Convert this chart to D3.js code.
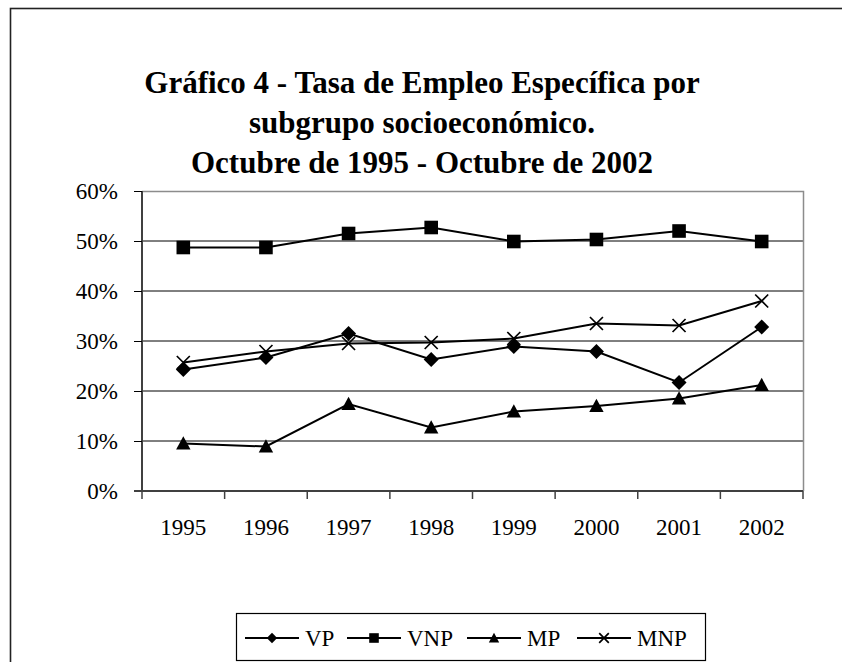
<!DOCTYPE html>
<html>
<head>
<meta charset="utf-8">
<script src="https://cdn.jsdelivr.net/npm/d3@7"></script>
<style>
  body { margin: 0; background: #fff; }
  svg text { font-family: "Liberation Serif", "Times New Roman", serif; fill: #000; }
</style>
</head>
<body>
<div id="chart"></div>
<script>
var years = ["1995", "1996", "1997", "1998", "1999", "2000", "2001", "2002"];
var vp  = [24.3, 26.7, 31.5, 26.3, 28.9, 27.9, 21.7, 32.8];
var vnp = [48.7, 48.7, 51.5, 52.7, 49.9, 50.3, 52.0, 49.9];
var mp  = [9.5, 8.9, 17.4, 12.7, 15.9, 17.0, 18.5, 21.2];
var mnp = [25.7, 27.9, 29.5, 29.7, 30.5, 33.5, 33.1, 38.0];
var yTicks = [0, 0.1, 0.2, 0.3, 0.4, 0.5, 0.6];
var titleLines = ["Gráfico 4 - Tasa de Empleo Específica por",
                  "subgrupo socioeconómico.",
                  "Octubre de 1995 - Octubre de 2002"];

var series = [
  {name: "VP", values: vp, shape: "diamond"},
  {name: "VNP", values: vnp, shape: "square"},
  {name: "MP", values: mp, shape: "triangle"},
  {name: "MNP", values: mnp, shape: "cross"}
];

var W = 842, H = 662;
var plot = {left: 142, right: 803, top: 191, bottom: 491};
var serif = "'Liberation Serif', 'Times New Roman', serif";

var svg = d3.select("#chart")
  .append("svg")
    .attr("width", W)
    .attr("height", H);

// outer chart border (runs past the picture at right/bottom)
svg.append("rect")
  .attr("x", 10.5).attr("y", 8.5)
  .attr("width", W).attr("height", H)
  .attr("fill", "#fff")
  .attr("stroke", "#222")
  .attr("stroke-width", 1.6);

// title
svg.append("g").selectAll("text")
  .data(titleLines)
  .enter().append("text")
    .attr("x", 422)
    .attr("y", function (d, i) { return 93 + i * 40; })
    .attr("text-anchor", "middle")
    .style("font-size", "31px")
    .style("font-weight", "bold")
    .text(function (d) { return d; });

var x = d3.scaleBand()
  .domain(years)
  .range([plot.left, plot.right]);

var y = d3.scaleLinear()
  .domain([0, 0.6])
  .range([plot.bottom, plot.top]);

function cx(i) { return x(years[i]) + x.bandwidth() / 2; }

// gridlines
svg.append("g").selectAll("line")
  .data(yTicks.slice(1, -1))
  .enter().append("line")
    .attr("x1", plot.left).attr("x2", plot.right)
    .attr("y1", function (d) { return y(d); })
    .attr("y2", function (d) { return y(d); })
    .attr("stroke", "#000")
    .attr("stroke-width", 1);

// plot frame top/right
svg.append("path")
  .attr("d", "M" + plot.left + "," + (plot.top + 0.5) + "H" + (plot.right + 0.5) + "V" + plot.bottom)
  .attr("fill", "none")
  .attr("stroke", "#8c8c8c")
  .attr("stroke-width", 1.5);

// Y axis
var yAxis = svg.append("g")
  .attr("transform", "translate(" + plot.left + ",0)")
  .attr("font-family", serif)
  .attr("font-size", 23)
  .call(d3.axisLeft(y).tickValues(yTicks).tickFormat(d3.format(".0%")).tickSize(8).tickPadding(16));
yAxis.select(".domain").attr("stroke", "#404040").attr("stroke-width", 2).attr("d", "M0," + plot.top + "V" + plot.bottom);
yAxis.selectAll(".tick line").attr("stroke", "#000");
yAxis.selectAll(".tick text").style("font-family", serif).style("font-size", "23px");

// X axis
var xAxis = svg.append("g")
  .attr("transform", "translate(0," + plot.bottom + ")")
  .attr("font-family", serif)
  .attr("font-size", 23)
  .call(d3.axisBottom(x).tickSize(0).tickPadding(28));
xAxis.select(".domain").attr("stroke", "#404040").attr("stroke-width", 2).attr("d", "M" + (plot.left - 8) + ",0H" + plot.right);
xAxis.selectAll(".tick text").style("font-family", serif).style("font-size", "23px");
xAxis.selectAll(".edge")
  .data(years.concat(["end"]))
  .enter().append("line")
    .attr("class", "edge")
    .attr("x1", function (d) { return d === "end" ? plot.right : x(d); })
    .attr("x2", function (d) { return d === "end" ? plot.right : x(d); })
    .attr("y1", 0).attr("y2", 8)
    .attr("stroke", "#404040")
    .attr("stroke-width", 1.5);

// markers
function marker(sel, shape, r) {
  if (shape === "cross") {
    sel.append("path")
      .attr("d", "M" + (-r) + "," + (-r) + "L" + r + "," + r + "M" + (-r) + "," + r + "L" + r + "," + (-r))
      .attr("fill", "none")
      .attr("stroke", "#000")
      .attr("stroke-width", 1.7);
    return;
  }
  var d;
  if (shape === "diamond") d = "M0," + (-r) + "L" + r + ",0L0," + r + "L" + (-r) + ",0Z";
  else if (shape === "square") d = "M" + (-r) + "," + (-r) + "H" + r + "V" + r + "H" + (-r) + "Z";
  else d = "M0," + (-r) + "L" + r + "," + (r * 0.85) + "L" + (-r) + "," + (r * 0.85) + "Z";
  sel.append("path").attr("d", d).attr("fill", "#000");
}

var markerSize = {diamond: 7.5, square: 6.8, triangle: 7.2, cross: 6.5};
var legendSize = {diamond: 5.2, square: 4.8, triangle: 5.2, cross: 4.8};

var line = d3.line()
  .x(function (d, i) { return cx(i); })
  .y(function (d) { return y(d / 100); });

series.forEach(function (s) {
  svg.append("path")
    .datum(s.values)
    .attr("d", line)
    .attr("fill", "none")
    .attr("stroke", "#000")
    .attr("stroke-width", 2);

  svg.append("g").selectAll("g")
    .data(s.values)
    .enter().append("g")
      .attr("transform", function (d, i) { return "translate(" + cx(i) + "," + y(d / 100) + ")"; })
      .each(function () { marker(d3.select(this), s.shape, markerSize[s.shape]); });
});

// legend
var legend = svg.append("g");
legend.append("rect")
  .attr("x", 236.5).attr("y", 613.5)
  .attr("width", 469).attr("height", 47)
  .attr("fill", "#fff")
  .attr("stroke", "#000")
  .attr("stroke-width", 1.2);

var legX = [245, 347, 467, 577];
series.forEach(function (s, i) {
  var g = legend.append("g").attr("transform", "translate(" + legX[i] + ",638)");
  g.append("line")
    .attr("x1", 0).attr("x2", 54)
    .attr("stroke", "#000").attr("stroke-width", 2);
  var m = g.append("g").attr("transform", "translate(27,0)");
  marker(m, s.shape, legendSize[s.shape]);
  g.append("text")
    .attr("x", 60)
    .attr("y", 8)
    .style("font-size", "23px")
    .text(s.name);
});
</script>
</body>
</html>
